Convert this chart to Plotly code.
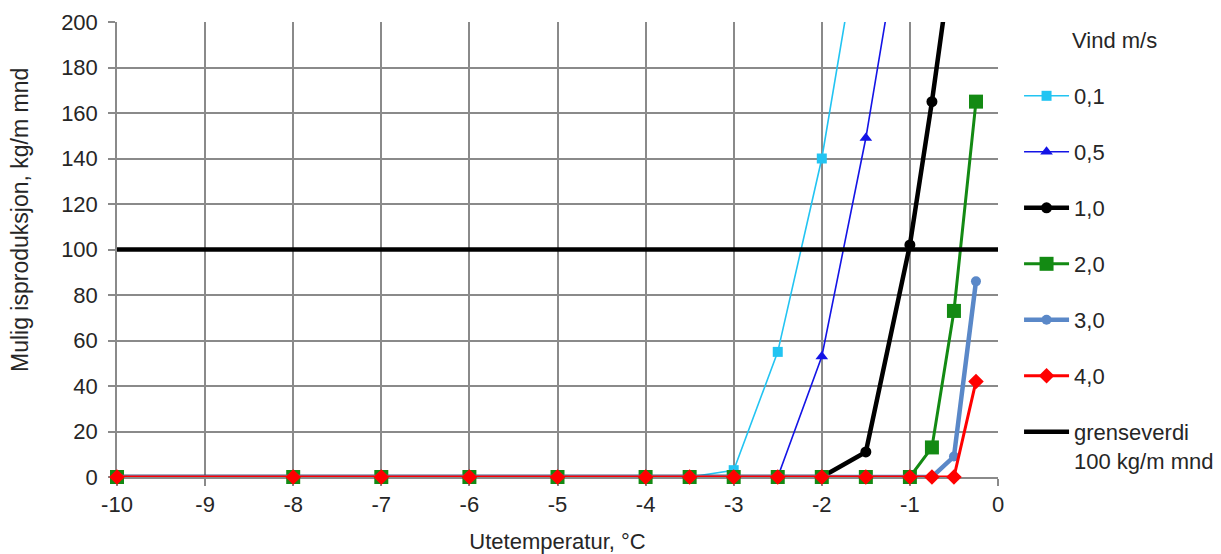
import plotly.graph_objects as go

# Data
temperatures = [-10, -8, -7, -6, -5, -4, -3.5, -3, -2.5, -2, -1.5, -1, -0.75, -0.5, -0.25]
wind_0_1 = [0, 0, 0, 0, 0, 0, 0, 3, 55, 140, 255, None, None, None, None]
wind_0_5 = [0, 0, 0, 0, 0, 0, 0, 0, 0, 53, 149, 265, None, None, None]
wind_1_0 = [0, 0, 0, 0, 0, 0, 0, 0, 0, 0, 11, 102, 165, 235, None]
wind_2_0 = [0, 0, 0, 0, 0, 0, 0, 0, 0, 0, 0, 0, 13, 73, 165]
wind_3_0 = [0, 0, 0, 0, 0, 0, 0, 0, 0, 0, 0, 0, 0, 9, 86]
wind_4_0 = [0, 0, 0, 0, 0, 0, 0, 0, 0, 0, 0, 0, 0, 0, 42]
limit_x = [-10, 0]
limit_y = [100, 100]

series_names = ["0,1", "0,5", "1,0", "2,0", "3,0", "4,0"]
limit_name = "grenseverdi<br>100 kg/m mnd"

x_tick_vals = [-10, -9, -8, -7, -6, -5, -4, -3, -2, -1, 0]
x_tick_text = ["-10", "-9", "-8", "-7", "-6", "-5", "-4", "-3", "-2", "-1", "0"]
y_tick_vals = [0, 20, 40, 60, 80, 100, 120, 140, 160, 180, 200]

FONT = "Liberation Sans, Arial, sans-serif"
TXT = "#262626"
GRID = "#8a8a8a"
FS = 22

styles = [
    dict(color="#22c4f2", width=1.6, symbol="square", size=10),
    dict(color="#1414e6", width=1.6, symbol="triangle-up", size=11),
    dict(color="#000000", width=4.5, symbol="circle", size=11),
    dict(color="#138a13", width=3, symbol="square", size=14),
    dict(color="#5a88c8", width=4.5, symbol="circle", size=10),
    dict(color="#ff0000", width=3, symbol="diamond", size=12),
]
values = [wind_0_1, wind_0_5, wind_1_0, wind_2_0, wind_3_0, wind_4_0]

fig = go.Figure()
for i, (name, vals, st) in enumerate(zip(series_names, values, styles)):
    fig.add_trace(go.Scatter(
        x=temperatures, y=vals, name=name, mode="lines+markers",
        line=dict(color=st["color"], width=st["width"]),
        marker=dict(color=st["color"], symbol=st["symbol"], size=st["size"]),
        cliponaxis=False, legendgroup=f"g{i}",
    ))
fig.add_trace(go.Scatter(
    x=limit_x, y=limit_y, name=limit_name, mode="lines",
    line=dict(color="#000000", width=4.5), legendgroup="g6",
))

axis_common = dict(
    showgrid=True, gridcolor=GRID, gridwidth=1.5,
    showline=True, linecolor=GRID, linewidth=1.5,
    ticks="outside", tickcolor=GRID, tickwidth=1.5, ticklen=7,
    zeroline=False, layer="below traces", automargin=False,
    tickfont=dict(family=FONT, size=FS, color=TXT),
)

fig.update_layout(
    width=1221, height=554,
    margin=dict(l=117, r=223, t=22, b=77),
    paper_bgcolor="white", plot_bgcolor="white",
    font=dict(family=FONT, size=FS, color=TXT),
    showlegend=True,
    legend=dict(
        xref="container", yref="container",
        x=0.8346, xanchor="left", y=0.8646, yanchor="top",
        maxheight=500,
        traceorder="grouped", tracegroupgap=24.4, valign="top",
        itemwidth=45, font=dict(family=FONT, size=FS, color=TXT),
        bgcolor="rgba(0,0,0,0)",
    ),
    annotations=[
        dict(text="Vind m/s", xref="paper", yref="paper", x=1.082, y=0.96,
             xanchor="left", yanchor="middle", showarrow=False,
             font=dict(family=FONT, size=FS, color=TXT)),
        dict(text="Mulig isproduksjon, kg/m mnd", xref="paper", yref="paper",
             x=-0.11, y=0.565, xanchor="center", yanchor="middle",
             textangle=-90, showarrow=False,
             font=dict(family=FONT, size=23, color=TXT)),
    ],
)
fig.update_xaxes(
    range=[-10, 0], tickvals=x_tick_vals, ticktext=x_tick_text,
    title=dict(text="Utetemperatur, °C", standoff=20,
               font=dict(family=FONT, size=FS, color=TXT)),
    **axis_common,
)
fig.update_yaxes(
    range=[0, 200], tickvals=y_tick_vals,
    ticklabelstandoff=6, **axis_common,
)

fig.write_html("out.html")
